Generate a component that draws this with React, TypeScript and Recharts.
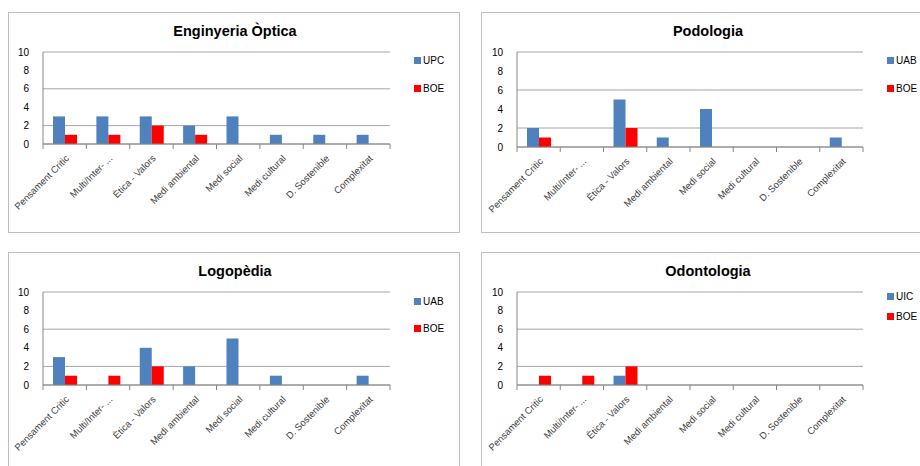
import * as React from "react";
import { BarChart, Bar, XAxis, YAxis, CartesianGrid } from "recharts";

const categories = [
  "Pensament Critic",
  "Multi/Inter- ...",
  "Ètica - Valors",
  "Medi ambiental",
  "Medi social",
  "Medi cultural",
  "D. Sostenible",
  "Complexitat",
];
const yTicks = [0, 2, 4, 6, 8, 10];

const opticaUPC = [3, 3, 3, 2, 3, 1, 1, 1];
const opticaBOE = [1, 1, 2, 1, 0, 0, 0, 0];
const podologiaUAB = [2, 0, 5, 1, 4, 0, 0, 1];
const podologiaBOE = [1, 0, 2, 0, 0, 0, 0, 0];
const logopediaUAB = [3, 0, 4, 2, 5, 1, 0, 1];
const logopediaBOE = [1, 1, 2, 0, 0, 0, 0, 0];
const odontologiaUIC = [0, 0, 1, 0, 0, 0, 0, 0];
const odontologiaBOE = [1, 1, 2, 0, 0, 0, 0, 0];

const BLUE = "#4f81bd";
const RED = "#ff0000";
const FONT = "'Liberation Sans', Arial, sans-serif";

// category labels rotated -45deg, with tick marks on the band edges
function CatTick(props: any) {
  const { x, y, payload, index, visibleTicksCount } = props;
  const off = payload?.offset ?? 0;
  const last = index === (visibleTicksCount ?? 8) - 1;
  const tx = x + 5;
  const ty = y + 15;
  return (
    <g>
      <line x1={x - off} x2={x - off} y1={y} y2={y + 5} stroke="#868686" />
      {last && <line x1={x + off} x2={x + off} y1={y} y2={y + 5} stroke="#868686" />}
      <text
        x={tx}
        y={ty}
        textAnchor="end"
        fontSize={9.5}
        fontFamily={FONT}
        fill="#404040"
        transform={`rotate(-45 ${tx} ${ty})`}
      >
        {payload.value}
      </text>
    </g>
  );
}

type PanelProps = {
  title: string;
  left: number;
  top: number;
  names: [string, string];
  a: number[];
  b: number[];
  plotBottom: number;
  plotLeft: number;
  legendY: [number, number];
};

function Panel({ title, left, top, names, a, b, plotBottom, plotLeft, legendY }: PanelProps) {
  const data = categories.map((c, i) => ({ c, a: a[i], b: b[i] }));
  const W = 452;
  const H = 221;
  const axisH = 60;
  const colors = [BLUE, RED];
  return (
    <div
      style={{
        position: "absolute",
        left,
        top,
        width: W,
        height: H,
        border: "1px solid #bfbfbf",
        boxSizing: "border-box",
        background: "#fff",
      }}
    >
      <div
        style={{
          position: "absolute",
          left: 0,
          width: W,
          top: 10,
          textAlign: "center",
          fontFamily: FONT,
          fontWeight: "bold",
          fontSize: 14.5,
          color: "#000",
        }}
      >
        {title}
      </div>
      <div style={{ position: "absolute", left: -1, top: -1 }}>
        <BarChart
          width={W}
          height={H}
          data={data}
          barGap={0}
          barSize={12}
          margin={{ top: 40, right: 70, left: 0, bottom: H - plotBottom - axisH }}
        >
          <CartesianGrid vertical={false} stroke="#a6a6a6" />
          <XAxis
            dataKey="c"
            interval={0}
            height={axisH}
            tickLine={false}
            tickSize={0}
            tickMargin={0}
            axisLine={{ stroke: "#868686" }}
            tick={<CatTick />}
          />
          <YAxis
            width={plotLeft}
            domain={[0, 10]}
            ticks={yTicks}
            tickLine={false}
            axisLine={{ stroke: "#868686" }}
            tickMargin={8}
            tick={{ fontSize: 10, fontFamily: FONT, fill: "#000" }}
          />
          <Bar dataKey="a" name={names[0]} fill={BLUE} isAnimationActive={false} />
          <Bar dataKey="b" name={names[1]} fill={RED} isAnimationActive={false} />
        </BarChart>
      </div>
      {names.map((n, i) => (
        <div
          key={n}
          style={{
            position: "absolute",
            left: 405,
            top: legendY[i] - 7,
            display: "flex",
            alignItems: "center",
            fontFamily: FONT,
            fontSize: 10,
            color: "#000",
          }}
        >
          <span style={{ width: 7, height: 7, background: colors[i], display: "inline-block", marginRight: 2 }} />
          {n}
        </div>
      ))}
    </div>
  );
}

export default function App() {
  return (
    <div style={{ position: "absolute", left: 0, top: 0, width: 920, height: 466, overflow: "hidden", background: "#fff" }}>
      <Panel title="Enginyeria Òptica" left={8} top={12} names={["UPC", "BOE"]} a={opticaUPC} b={opticaBOE} plotBottom={132} plotLeft={35} legendY={[49, 77]} />
      <Panel title="Podologia" left={481} top={12} names={["UAB", "BOE"]} a={podologiaUAB} b={podologiaBOE} plotBottom={135} plotLeft={36} legendY={[49, 77]} />
      <Panel title="Logopèdia" left={8} top={252} names={["UAB", "BOE"]} a={logopediaUAB} b={logopediaBOE} plotBottom={133} plotLeft={35} legendY={[50, 77]} />
      <Panel title="Odontologia" left={481} top={252} names={["UIC", "BOE"]} a={odontologiaUIC} b={odontologiaBOE} plotBottom={133} plotLeft={36} legendY={[45, 65]} />
    </div>
  );
}
